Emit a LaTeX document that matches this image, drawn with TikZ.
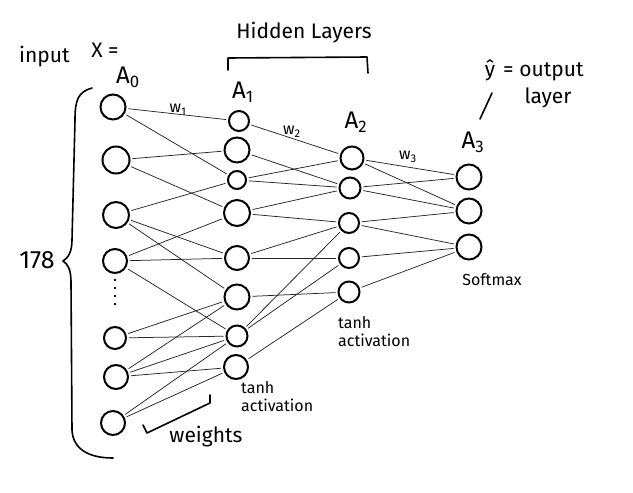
\documentclass[tikz,border=0pt]{standalone}
\usepackage{fontspec}
\setmainfont{Fira Sans}
\begin{document}
\begin{tikzpicture}[x=1pt,y=-1pt,
  neuron/.style={circle, draw=black, line width=2pt, inner sep=0pt, minimum size=#1},
  conn/.style={draw=black!85, line width=0.75pt, shorten <=2pt, shorten >=2pt},
  hand/.style={draw=black, line width=1.6pt, line cap=round, line join=round},
  big/.style={inner sep=0pt, font=\fontsize{21}{23}\selectfont},
  mid/.style={inner sep=0pt, font=\fontsize{16}{18}\selectfont},
  small/.style={inner sep=0pt, font=\fontsize{16}{17}\selectfont},
  lay/.style={inner sep=0pt, font=\fontsize{24}{26}\selectfont}]
\useasboundingbox[fill=white] (0,0) rectangle (633,493);

% input layer A0
\node[neuron=25pt] (a1) at (113,107) {};
\node[neuron=27pt] (a2) at (116,160) {};
\node[neuron=26pt] (a3) at (116,215) {};
\node[neuron=24pt] (a4) at (115,261) {};
\node[neuron=22pt] (a5) at (115,338) {};
\node[neuron=24pt] (a6) at (116,377) {};
\node[neuron=24pt] (a7) at (113,423) {};
% hidden layer A1
\node[neuron=20pt] (b1) at (239,121) {};
\node[neuron=25pt] (b2) at (237,150) {};
\node[neuron=18pt] (b3) at (237,180) {};
\node[neuron=26pt] (b4) at (237,213) {};
\node[neuron=24pt] (b5) at (237,258) {};
\node[neuron=25pt] (b6) at (237,297) {};
\node[neuron=21pt] (b7) at (237,336) {};
\node[neuron=24pt] (b8) at (236,367) {};
% hidden layer A2
\node[neuron=23pt] (c1) at (352,158) {};
\node[neuron=21pt] (c2) at (350,188) {};
\node[neuron=20pt] (c3) at (349,223) {};
\node[neuron=20pt] (c4) at (349,258) {};
\node[neuron=21pt] (c5) at (349,292) {};
% output layer A3
\node[neuron=25pt] (d1) at (469,177) {};
\node[neuron=25pt] (d2) at (469,211) {};
\node[neuron=25pt] (d3) at (469,247) {};

% dots
\foreach \yy in {280,288,296,304}
  \fill (115,\yy) circle (1.3pt);

% connections A0 -> A1
\foreach \s/\t in {a1/b1,a1/b3,a2/b2,a2/b4,a3/b3,a3/b5,a3/b6,a4/b4,a4/b5,a4/b7,
                   a5/b6,a5/b7,a6/b6,a6/b7,a6/b8,a7/b7,a7/b8}
  \draw[conn] (\s) -- (\t);
% A1 -> A2
\foreach \s/\t in {b1/c1,b2/c2,b3/c1,b3/c2,b4/c2,b4/c3,b5/c3,b5/c4,b6/c5,b7/c3,b7/c4,b8/c5}
  \draw[conn] (\s) -- (\t);
% A2 -> A3
\foreach \s/\t in {c1/d1,c1/d2,c2/d1,c2/d2,c3/d2,c3/d3,c4/d3,c5/d3}
  \draw[conn] (\s) -- (\t);

% labels
\node[big, anchor=west] (inp) at (19,57) {input};
\node[big] (xeq) at (105,50) {X =};
\node[lay] (l0) at (128,77) {A\textsubscript{0}};
\node[lay] (l1) at (243,92) {A\textsubscript{1}};
\node[lay] (l2) at (356,122) {A\textsubscript{2}};
\node[lay] (l3) at (473,142) {A\textsubscript{3}};
\node[big] (hid) at (304,33) {Hidden Layers};
\node[big] (yhat) at (490,70) {ŷ};
\node[big, anchor=west] (outp) at (503,72) {= output};
\node[big] (layr) at (548,98) {layer};
\node[small] (w1) at (178,110) {w\textsubscript{1}};
\node[small] (w2) at (292,132) {w\textsubscript{2}};
\node[small] (w3) at (408,157) {w\textsubscript{3}};
\node[inner sep=0pt, font=\fontsize{25}{27}\selectfont] (n178) at (37,260) {178};
\node[mid] (sm) at (492,280) {Softmax};
\node[mid, anchor=west, align=left] (t2) at (338,332) {tanh\\activation};
\node[mid, anchor=west, align=left] (t1) at (241,397) {tanh\\activation};
\node[big] (wts) at (206,437) {weights};

% hidden layers bracket
\coordinate (hb1) at (228,70);
\coordinate (hb2) at (228,58);
\coordinate (hb3) at (367,57);
\coordinate (hb4) at (368,73);
\draw[hand] (hb1) -- (hb2) -- (hb3) -- (hb4);

% weights bracket
\coordinate (wb1) at (143,425);
\coordinate (wb2) at (147,433);
\coordinate (wb3) at (210,403);
\coordinate (wb4) at (210,395);
\draw[hand] (wb1) -- (wb2) -- (wb3) -- (wb4);

% output pointer
\coordinate (op1) at (492,93);
\coordinate (op2) at (480,119);
\draw[hand] (op1) -- (op2);

% big brace
\draw[hand] (92,88) .. controls (78,92) and (75,100) .. (75,120)
  -- (72,240) .. controls (72,252) and (68,258) .. (63,261)
  .. controls (68,264) and (71,270) .. (71,282)
  -- (72,430) .. controls (73,450) and (90,458) .. (113,458);
\end{tikzpicture}
\end{document}
